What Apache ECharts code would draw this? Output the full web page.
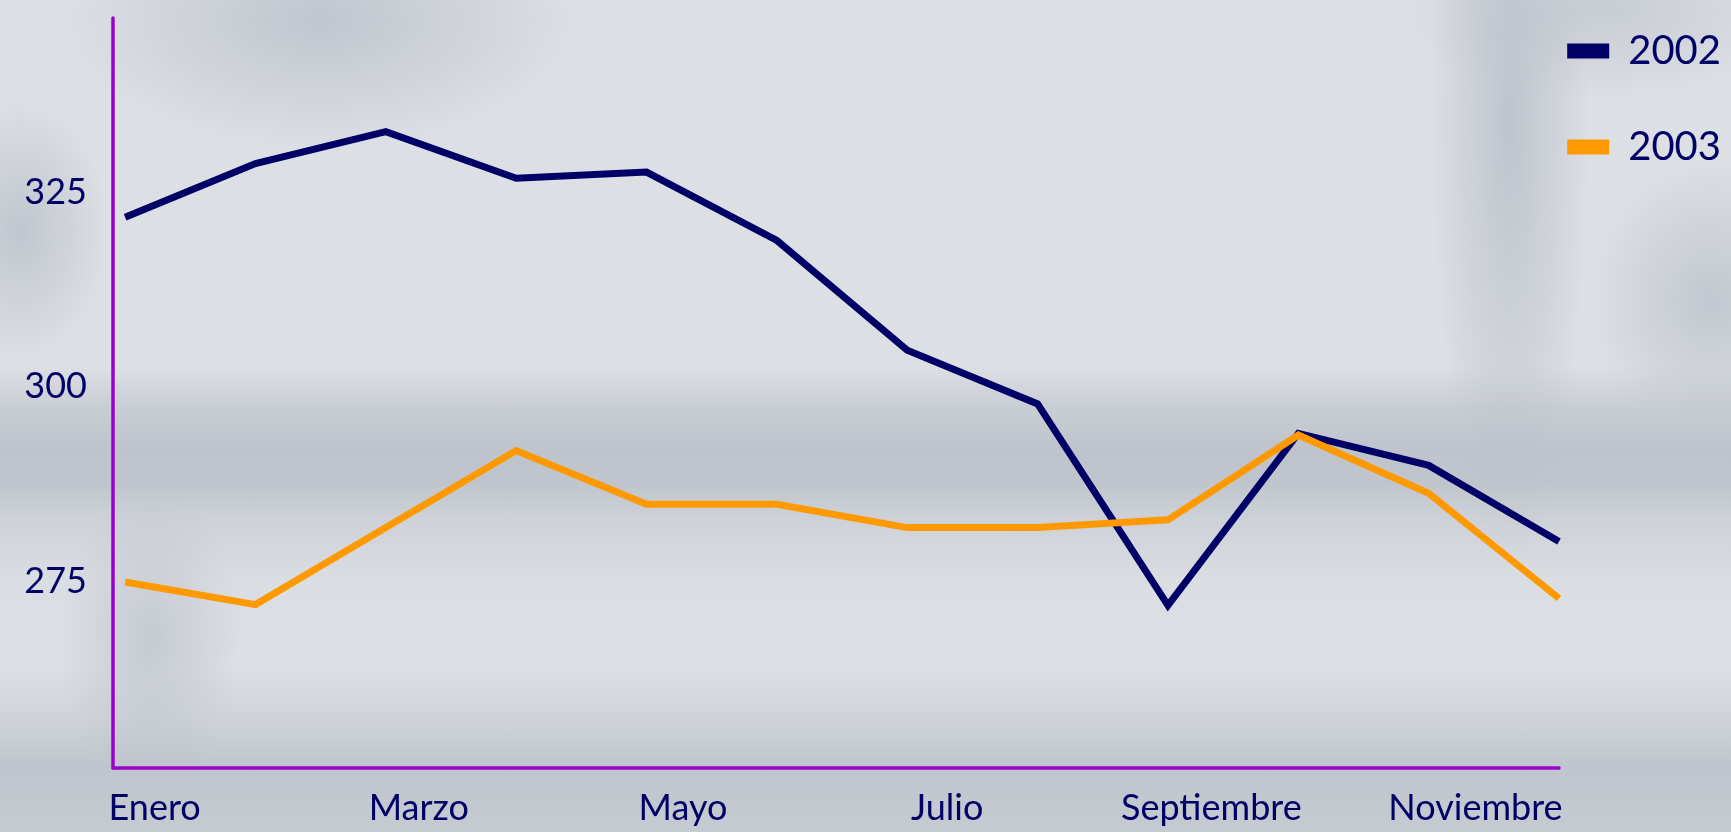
<!DOCTYPE html>
<html>
<head>
<meta charset="utf-8">
<script src="https://cdn.jsdelivr.net/npm/echarts@6/dist/echarts.min.js"></script>
<style>
html,body{margin:0;padding:0;width:1731px;height:832px;overflow:hidden;background:#dcdfe4;}
#bg{position:absolute;left:0;top:0;width:1731px;height:832px;
background:
 radial-gradient(ellipse 260px 130px at 320px 20px, rgba(188,193,202,0.85), rgba(188,193,202,0) 100%),
 radial-gradient(ellipse 90px 130px at 20px 230px, rgba(186,191,200,0.8), rgba(186,191,200,0) 100%),
 radial-gradient(ellipse 90px 150px at 150px 640px, rgba(186,191,200,0.65), rgba(186,191,200,0) 100%),
 radial-gradient(ellipse 80px 440px at 1510px 120px, rgba(186,191,200,0.85), rgba(186,191,200,0) 100%),
 radial-gradient(ellipse 200px 90px at 1600px 10px, rgba(186,191,200,0.6), rgba(186,191,200,0) 100%),
 radial-gradient(ellipse 120px 140px at 1710px 300px, rgba(186,191,200,0.75), rgba(186,191,200,0) 100%),
 linear-gradient(to bottom, #dcdfe4 0%, #dcdfe4 44%, #c9cdd4 49%, #bfc4cc 54%, #c0c5cd 58%, #cfd3d9 63%, #dadde2 70%, #dcdfe4 80%, #d0d4da 86%, #c0c5cd 92%, #c6cad1 100%);
}
#chart{position:absolute;left:0;top:0;width:1731px;height:832px;}
</style>
</head>
<body>
<div id="bg"></div>
<div id="chart"></div>
<script>
const months = ['Enero','Febrero','Marzo','Abril','Mayo','Junio','Julio','Agosto','Septiembre','Octubre','Noviembre','Diciembre'];
const values2002 = [321.8, 328.7, 332.8, 326.8, 327.6, 318.8, 304.7, 297.8, 271.9, 294.0, 289.9, 280.1];
const values2003 = [274.9, 272.0, 281.9, 291.8, 284.9, 284.9, 281.9, 281.9, 282.9, 293.8, 286.3, 272.8];
const yTicks = [275, 300, 325];
const seriesNames = ['2002', '2003'];

const NAVY = '#000066', ORANGE = '#ff9900', PURPLE = '#9900cc';
const FONT = 'Lato';

const chart = echarts.init(document.getElementById('chart'), null, {renderer: 'canvas'});
chart.setOption({
  backgroundColor: 'transparent',
  animation: false,
  textStyle: {fontFamily: FONT},
  legend: {
    orient: 'vertical', right: 10, top: 31, padding: 0,
    itemWidth: 42, itemHeight: 15, itemGap: 56,
    icon: 'rect',
    textStyle: {fontFamily: FONT, fontSize: 40, color: NAVY, padding: [0,0,0,14]},
    data: seriesNames
  },
  grid: [
    {left: 113, right: 172, top: 18, bottom: 64},
    {left: 88.6, right: 57.4, top: 18, bottom: 64}
  ],
  xAxis: [
    {type: 'value', gridIndex: 0, min: -0.093, max: 11,
     axisLine: {show: true, onZero: false, lineStyle: {color: PURPLE, width: 3.5}},
     axisTick: {show: false}, axisLabel: {show: false}, splitLine: {show: false}},
    {type: 'category', gridIndex: 1, data: months, boundaryGap: true,
     axisLine: {show: false}, axisTick: {show: false}, splitLine: {show: false},
     axisLabel: {interval: 1, fontFamily: FONT, fontSize: 36, color: NAVY, margin: 22}}
  ],
  yAxis: [
    {type: 'value', gridIndex: 0, min: 251, max: 347.4,
     axisLine: {show: true, onZero: false, lineStyle: {color: PURPLE, width: 3.5}},
     axisTick: {show: false}, splitLine: {show: false},
     axisLabel: {customValues: yTicks, fontFamily: FONT, fontSize: 36, color: NAVY, margin: 26}},
    {type: 'value', gridIndex: 1, min: 0, max: 1, show: false}
  ],
  series: [
    {name: seriesNames[0], type: 'line', xAxisIndex: 0, yAxisIndex: 0, symbol: 'none',
     color: NAVY, lineStyle: {width: 7, color: NAVY, join: 'miter'},
     data: values2002.map((v, i) => [i, v])},
    {name: seriesNames[1], type: 'line', xAxisIndex: 0, yAxisIndex: 0, symbol: 'none',
     color: ORANGE, lineStyle: {width: 7, color: ORANGE, join: 'miter'},
     data: values2003.map((v, i) => [i, v])}
  ]
});
</script>
</body>
</html>
